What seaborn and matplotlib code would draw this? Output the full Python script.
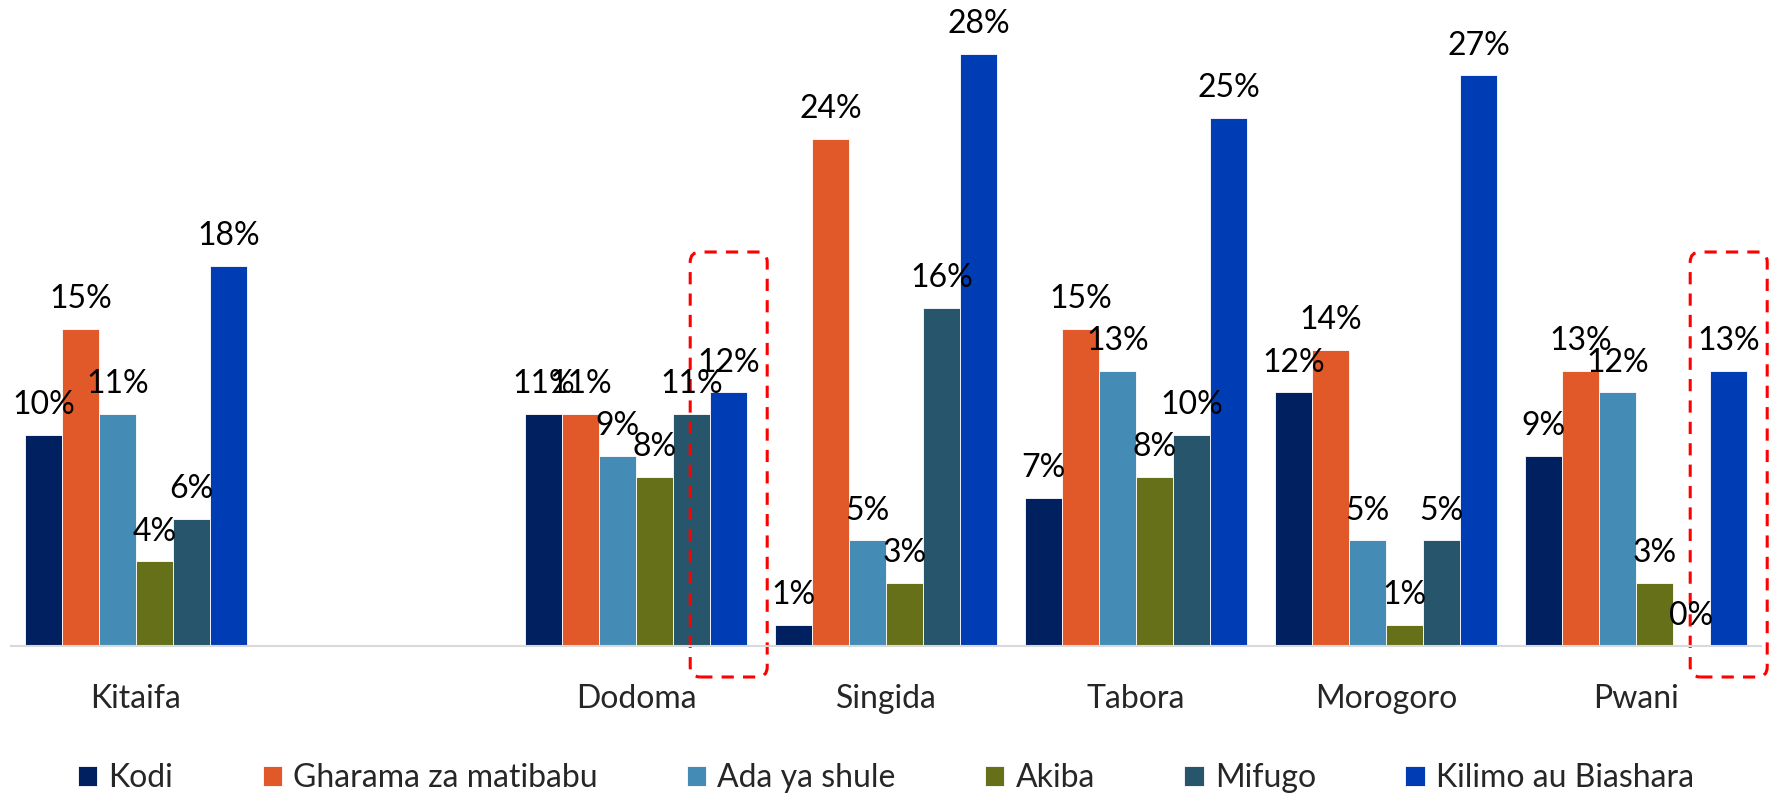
import pandas as pd
import numpy as np
import matplotlib.pyplot as plt
import seaborn as sns
from matplotlib.patches import FancyBboxPatch

# Data ('' slot is an empty gap between Kitaifa and the regions)
regions = ['Kitaifa', ' ', 'Dodoma', 'Singida', 'Tabora', 'Morogoro', 'Pwani']
series = ['Kodi', 'Gharama za matibabu', 'Ada ya shule', 'Akiba', 'Mifugo', 'Kilimo au Biashara']
kodi = [10, None, 11, 1, 7, 12, 9]
gharama = [15, None, 11, 24, 15, 14, 13]
ada = [11, None, 9, 5, 13, 5, 12]
akiba = [4, None, 8, 3, 8, 1, 3]
mifugo = [6, None, 11, 16, 10, 5, 0]
kilimo = [18, None, 12, 28, 25, 27, 13]
colors = ['#002060', '#E15829', '#448CB5', '#667019', '#27556C', '#003DB5']
highlight = ['Dodoma', 'Pwani']  # Kilimo bars boxed in red

values = [kodi, gharama, ada, akiba, mifugo, kilimo]
rows = []
for s, vals in zip(series, values):
    for r, v in zip(regions, vals):
        if v is not None:
            rows.append({'region': r, 'series': s, 'value': v})
df = pd.DataFrame(rows)

sns.set_style('white')
plt.rcParams['font.family'] = ['Lato', 'DejaVu Sans']
FS = 23

fig = plt.figure(figsize=(17.81, 7.96), dpi=100)
ax = fig.add_axes([11 / 1781, 150 / 796, 1750 / 1781, 634 / 796])

sns.barplot(data=df, x='region', y='value', hue='series', order=regions,
            hue_order=series, palette=colors, width=0.89, gap=0,
            edgecolor='white', linewidth=0.6, saturation=1, ax=ax, legend=True)

ax.set_ylim(0, 30)
ax.set_xlim(-0.5, len(regions) - 0.5)

# data labels
for cont in ax.containers:
    for bar in cont:
        v = bar.get_height()
        x = bar.get_x() + bar.get_width() / 2
        ax.annotate(f'{v:.0f}%', (x, v), xytext=(0, 15), textcoords='offset points',
                    ha='center', va='baseline', fontsize=FS, color='black',
                    annotation_clip=False)

# red dashed boxes around Kilimo bars
fig.canvas.draw()
px_x = ax.transData.transform((1, 0))[0] - ax.transData.transform((0, 0))[0]
px_y = ax.transData.transform((0, 1))[1] - ax.transData.transform((0, 0))[1]
for bar in ax.containers[5]:
    cx = bar.get_x() + bar.get_width() / 2
    idx = int(round(cx))
    if regions[idx] not in highlight:
        continue
    w = 77 / px_x
    y0 = -31 / px_y
    h = 425 / px_y
    box = FancyBboxPatch((cx - w / 2, y0), w, h,
                         boxstyle=f'round,pad=0,rounding_size={10 / px_x}',
                         mutation_aspect=px_x / px_y,
                         fill=False, edgecolor='#FF0000', linewidth=2.2,
                         linestyle=(0, (4, 3)), clip_on=False)
    ax.add_patch(box)

for side in ['top', 'right', 'left']:
    ax.spines[side].set_visible(False)
ax.spines['bottom'].set_color('#D9D9D9')
ax.spines['bottom'].set_linewidth(1.5)
ax.set_yticks([])
ax.set_xlabel('')
ax.set_ylabel('')
ax.tick_params(axis='x', length=0, pad=27, labelsize=FS)

handles, labels = ax.get_legend_handles_labels()
ax.legend(handles, labels, loc='center', bbox_to_anchor=(0.5, (18 - 150) / 634),
          ncol=6, frameon=False, fontsize=FS, handlelength=0.6, handleheight=0.6,
          handletextpad=0.35, columnspacing=2.8)

plt.savefig('out.png', dpi=100)
